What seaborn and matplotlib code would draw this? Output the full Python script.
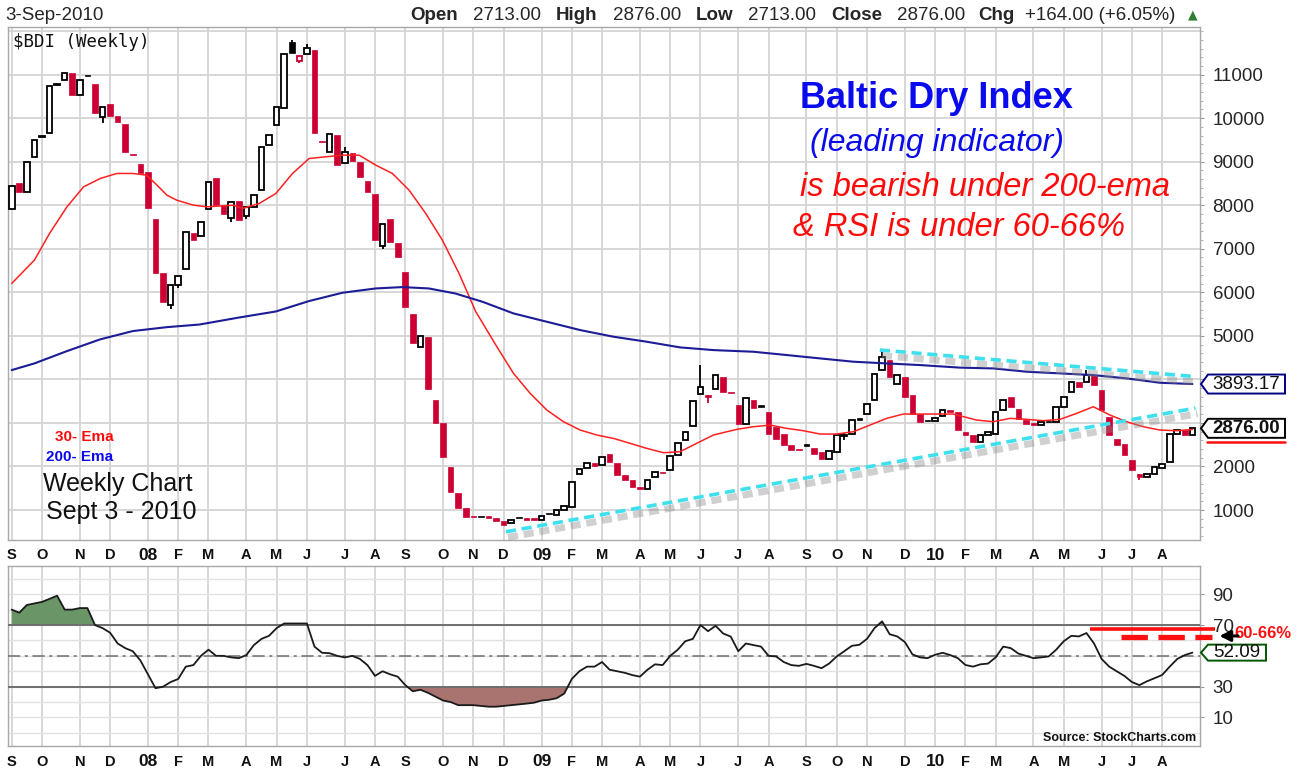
#!/usr/bin/env python3
"""
Baltic Dry Index weekly candles + 30/200 EMA + RSI(14)
"""
import numpy as np
import pandas as pd
import matplotlib
matplotlib.use('Agg')
import matplotlib.pyplot as plt
import matplotlib.patheffects as pe
from matplotlib.patches import Polygon
from matplotlib.lines import Line2D
from matplotlib.ticker import MultipleLocator
import seaborn as sns

sns.set_style('white')
plt.rcParams['font.family'] = ['Liberation Sans', 'DejaVu Sans']
NARROW = ['Liberation Sans Narrow', 'Liberation Sans', 'DejaVu Sans']

# === data ===
first_week = '2007-09-07'

opens = [
    7903, 8515, 8309, 9097, 9570, 9648, 10760, 10872, 11041, 10543,
    10990, 10796, 10030, 10314, 10046, 9855, 9170, 8944, 8768, 7673,
    6449, 5707, 6166, 6526, 7352, 7290, 7903, 8615, 8002, 7696,
    8102, 7750, 7964, 8347, 9380, 9839, 10237, 11752, 11309, 11485,
    11576, 9480, 9227, 9610, 8974, 9204, 8998, 8561, 8255, 7069,
    7673, 7138, 6472, 5500, 4735, 4980, 3525, 2998, 1995, 1383,
    1039, 860, 860, 862, 810, 737, 700, 820, 810, 810,
    774, 920, 885, 1000, 1077, 1827, 1958, 2087, 2034, 2286,
    2073, 1805, 1690, 1520, 1480, 1765, 1860, 1919, 2263, 2608,
    2930, 3664, 3640, 3772, 4048, 3720, 3405, 2985, 3520, 3418,
    3250, 2906, 2753, 2486, 2400, 2523, 2431, 2332, 2178, 2332,
    2700, 2753, 3110, 3212, 3520, 4209, 4438, 3903, 4055, 3635,
    3212, 3070, 3040, 3150, 3290, 3250, 2790, 2716, 2562, 2716,
    2753, 3290, 3596, 3327, 3060, 2998, 2945, 3050, 3021, 3366,
    3710, 3940, 3940, 4108, 3750, 3136, 2638, 2523, 2155, 1834,
    1758, 1834, 1972, 2110, 2746, 2830, 2713]

closes = [
    8439, 8309, 8982, 9510, 9587, 10735, 10780, 11041, 10543, 10888,
    10964, 10122, 10260, 10046, 9916, 9212, 9150, 8730, 7941, 6449,
    5783, 6166, 6372, 7390, 7198, 7604, 8538, 8002, 7796, 8079,
    7658, 7964, 8232, 9342, 9610, 10260, 11485, 11500, 11423, 11622,
    9648, 9456, 9625, 8921, 9227, 9013, 8653, 8309, 7199, 7559,
    7161, 6801, 5653, 4826, 4995, 3770, 2990, 2224, 1420, 1040,
    846, 830, 850, 810, 737, 663, 770, 810, 775, 772,
    862, 908, 1000, 1092, 1650, 1935, 2073, 2010, 2225, 2110,
    1805, 1690, 1520, 1480, 1690, 1880, 1843, 2240, 2530, 2800,
    3504, 3818, 3600, 4100, 3720, 3680, 2985, 3575, 3336, 3366,
    2753, 2638, 2486, 2385, 2370, 2463, 2293, 2178, 2355, 2716,
    2720, 3060, 3070, 3428, 4131, 4514, 4055, 4094, 3596, 3212,
    3021, 3035, 3110, 3290, 3250, 2830, 2716, 2562, 2716, 2790,
    3258, 3520, 3366, 3097, 2982, 2945, 3021, 3030, 3366, 3596,
    3940, 3825, 4108, 3864, 3290, 2716, 2486, 2256, 1912, 1758,
    1834, 1988, 2050, 2746, 2830, 2712, 2876]

# visible wicks only
wick_high = {0: 8470, 37: 11793, 39: 11700, 44: 9330, 91: 4330, 110: 2760,
             115: 4661, 142: 4209}
wick_low = {12: 9880, 21: 5615, 22: 6110, 29: 7620, 31: 7690, 38: 11260,
            49: 6990, 92: 3450, 110: 2600, 149: 1700}

ema30_wk = [0, 3, 5, 7.3, 9.5, 11.7, 13.9, 16, 17.8, 19.2,
            20.5, 21.8, 24, 25.8, 29.3, 30.5, 32.7, 34.9, 37.1, 39.3,
            41.5, 43.7, 45.9, 48.1, 50.3, 52.5, 54.7, 56.9, 59.1, 61.3,
            64.1, 66.3, 68.5, 70.7, 72.9, 75.1, 77.3, 79.5, 81.7, 83.9,
            86.1, 88.3, 90.5, 92.7, 95.8, 98, 100.2, 102.4, 104.6, 106.8,
            109, 111.2, 113.4, 115.6, 117.8, 120, 122.2, 124.4, 127.5, 129.7,
            131.9, 134.1, 136.3, 138.5, 140.7, 142.9, 145.1, 147.3, 149.5, 151.7,
            153.9, 156]
ema30 = [6204, 6740, 7352, 7964, 8423, 8615, 8730, 8730, 8691, 8462,
         8232, 8117, 8002, 7964, 8002, 7926, 8041, 8270, 8730, 9074,
         9112, 9150, 9150, 8921, 8730, 8347, 7811, 7199, 6434, 5560,
         4750, 4138, 3679, 3296, 3028, 2837, 2722, 2645, 2531, 2416,
         2316, 2339, 2531, 2722, 2852, 2913, 2951, 2875, 2821, 2745,
         2745, 2798, 2951, 3105, 3204, 3204, 3204, 3204, 3066, 3028,
         3105, 3082, 3051, 3082, 3219, 3372, 3181, 3028, 2913, 2837,
         2821, 2850]

ema200_wk = [0, 3, 7.3, 11.7, 16, 20.5, 24.8, 30, 34.9, 39.3,
             43.7, 48.1, 51.6, 55.1, 58.6, 62.2, 66.3, 70.7, 75.1, 79.5,
             83.9, 88.3, 92.7, 98, 102.4, 106.8, 111.2, 115.6, 120, 125.3,
             129.7, 134.1, 138.5, 142.9, 147.3, 151.7, 156]
ema200 = [4214, 4367, 4650, 4920, 5110, 5200, 5260, 5420, 5560, 5800,
          5990, 6089, 6120, 6089, 5974, 5783, 5515, 5324, 5133, 4980,
          4865, 4735, 4673, 4635, 4559, 4482, 4406, 4367, 4329, 4270,
          4252, 4176, 4138, 4099, 4023, 3923, 3893.17]

rsi = [80, 78, 83, 84, 85, 87, 89, 80, 80, 81,
       81, 70, 68, 65, 58, 55, 53, 47, 38, 29,
       30, 33, 35, 43, 44, 50, 54, 50, 50, 49,
       48.5, 50.5, 57, 61, 63, 68, 71, 71, 71, 71,
       56, 52, 51.7, 50, 49, 50, 48, 44, 37, 40,
       38, 36.5, 31, 27, 28, 26, 23.5, 21, 20, 18,
       18, 18, 17.5, 17, 17, 17.5, 18, 18.5, 19, 19.6,
       21, 21.5, 22.5, 25.5, 35, 40, 43, 43, 46, 41,
       40, 39, 37.5, 36.5, 41, 44.5, 44, 50, 54, 59.5,
       61, 70, 66, 69.5, 64.5, 62.5, 53, 58, 57, 56,
       50, 49.6, 46, 44, 43.5, 44.8, 43.5, 42, 45, 49.6,
       53, 56.5, 57.2, 61, 68, 72.4, 64, 62.6, 59, 51,
       49, 48.5, 50.7, 52, 50.5, 48.5, 44.1, 43, 44.5, 45,
       49, 56, 55, 51.5, 50, 48.5, 49, 49.6, 54, 59.5,
       63, 62.6, 64.8, 58, 48, 43, 40, 37, 33, 31,
       33.5, 35.5, 37.6, 43, 48, 50.5, 52.09]

# hand-drawn annotations
support_wk = [65.3, 156.4]
support_val = [500, 3340]
resist_wk = [114.7, 156.5]
resist_val = [4675, 4062]
zone_solid_wk = [142.5, 159.0]
zone_solid_val = 67.4
zone_dash_wk = [146.5, 158.6]
zone_dash_val = 62.0

RED = '#cc0033'
GRID = '#d4d4d4'
W, H = 1303, 773

fig = plt.figure(figsize=(W / 100, H / 100), dpi=100)
fig.patch.set_facecolor('white')
ax = fig.add_axes([8 / W, 1 - 540 / H, 1192 / W, 513 / H])
ax2 = fig.add_axes([8 / W, 1 - 746 / H, 1192 / W, 180 / H])

weeks = np.arange(len(closes))
rsi_arr = np.array(rsi)
dates = pd.date_range(first_week, periods=len(closes), freq='7D')
mondays = dates - pd.Timedelta(days=4)
month_pos = [0] + [i for i in range(1, len(mondays)) if mondays[i].month != mondays[i - 1].month]
month_lab = [f'{mondays[i].year % 100:02d}' if mondays[i].month == 1 else mondays[i].strftime('%b')[0]
             for i in month_pos]

for a in (ax, ax2):
    a.set_xlim(-0.49, 157.0)
    a.set_xticks([])
    for s in a.spines.values():
        s.set_color('#a8a8a8')
        s.set_linewidth(1.0)
    for m in month_pos:
        a.axvline(m, color=GRID, lw=1.3, zorder=0)

# month labels above and below the RSI panel
for a, yy in ((ax, -15 / 513), (ax2, -16 / 180)):
    for m, lab in zip(month_pos, month_lab):
        yr = lab.isdigit()
        a.text(m, yy, lab, transform=a.get_xaxis_transform(), ha='center', va='center',
               fontsize=12.5 if yr else 10.5, fontweight='bold', family=NARROW,
               color='#111111', clip_on=False)

# === price panel ===
ax.set_ylim(311, 12094)
for v in range(1000, 12001, 1000):
    ax.axhline(v, color=GRID, lw=1.3, zorder=0)

for i in weeks:
    o, c = opens[i], closes[i]
    prev = closes[i - 1] if i else o
    col = RED if c < prev else 'black'
    hi = wick_high.get(i, max(o, c))
    lo = wick_low.get(i, min(o, c))
    if hi > max(o, c) or lo < min(o, c):
        ax.vlines(i, lo, hi, color=col, lw=1.3, zorder=3)
    filled = c < o
    ax.bar(i, max(abs(c - o), 20), bottom=min(o, c), width=0.74,
           facecolor=col if filled else 'white', edgecolor=col,
           linewidth=0.5 if filled else 1.3, zorder=4)

sns.lineplot(x=ema30_wk, y=ema30, ax=ax, color='#ff2020', linewidth=1.1, zorder=5)
sns.lineplot(x=ema200_wk, y=ema200, ax=ax, color='#1c1c96', linewidth=1.5, zorder=5)

shadow = [pe.SimpleLineShadow(offset=(1.5, -4), shadow_color='#8a8a8a', alpha=0.4, linewidth=5),
          pe.Normal()]
for xs, ys in ((support_wk, support_val), (resist_wk, resist_val)):
    ax.plot(xs, ys, color='#3ee0ee', lw=2.6, dashes=(2.8, 1.6), path_effects=shadow,
            zorder=6, clip_on=False)

ax.yaxis.tick_right()
ax.set_yticks(range(1000, 12000, 1000))
ax.set_yticklabels(['' if v in (3000, 4000) else str(v) for v in range(1000, 12000, 1000)])
ax.yaxis.set_minor_locator(MultipleLocator(200))
ax.tick_params(axis='y', which='major', length=3, pad=6, labelsize=13.5, color='#999999')
ax.tick_params(axis='y', which='minor', right=True, length=2, color='#aaaaaa')
ax.set_xlabel('')
ax.set_ylabel('')

# === RSI panel ===
ax2.set_ylim(-8.5, 108.3)
for v in range(0, 101, 10):
    ax2.axhline(v, color='#e2e2e2', lw=1.0, zorder=0)
ax2.fill_between(weeks, rsi_arr, 70, where=rsi_arr >= 70, interpolate=True, color='#6a9566', zorder=2, lw=0)
ax2.fill_between(weeks, rsi_arr, 30, where=rsi_arr <= 30, interpolate=True, color='#a9736f', zorder=2, lw=0)
ax2.axhline(70, color='#6e6e6e', lw=1.4, zorder=3)
ax2.axhline(30, color='#6e6e6e', lw=1.4, zorder=3)
ax2.axhline(50, color='#6e6e6e', lw=1.1, dashes=(8, 3, 2, 3), zorder=3)
sns.lineplot(x=weeks, y=rsi_arr, ax=ax2, color='#1a1a1a', linewidth=1.3, zorder=5)

ax2.plot(zone_solid_wk, [zone_solid_val] * 2, color='#ff1010', lw=2.6, solid_capstyle='butt',
         zorder=6, clip_on=False)
ax2.plot(zone_dash_wk, [zone_dash_val] * 2, color='#ff1010', lw=3.8, dashes=(5, 2),
         zorder=6, clip_on=False)
ax2.annotate('', xy=(159.2, 62.9), xytext=(162.4, 62.9),
             arrowprops=dict(arrowstyle='-|>', color='black', lw=2.2, mutation_scale=16),
             annotation_clip=False, zorder=7)
ax2.text(161.6, 64.2, '60-66%', color='#ff1010', fontsize=12, fontweight='bold',
         va='center', ha='left', clip_on=False)

ax2.yaxis.tick_right()
ax2.set_yticks([10, 30, 70, 90])
ax2.tick_params(axis='y', length=3, pad=6, labelsize=13.5, color='#999999')
ax2.set_xlabel('')
ax2.set_ylabel('')


# === value tags on the right ===
def tag(axis, yval, text, edge, weight='normal', xr=1285, h=19, under=None):
    ypix = axis.transData.transform((0, yval))[1]
    xl = 1201
    pts = [(xl, ypix), (xl + 7, ypix + h / 2), (xr, ypix + h / 2), (xr, ypix - h / 2), (xl + 7, ypix - h / 2)]
    fig.add_artist(Polygon([(px / W, py / H) for px, py in pts], closed=True, transform=fig.transFigure,
                           facecolor='white', edgecolor=edge, lw=1.4, zorder=10))
    fig.text((xl + 7 + xr) / 2 / W, ypix / H, text, ha='center', va='center', fontsize=13.5,
             fontweight=weight, color='#111111', zorder=11)
    if under:
        fig.add_artist(Line2D([(xl + 6) / W, xr / W], [(ypix - h / 2 - 4) / H] * 2,
                              transform=fig.transFigure, color=under, lw=1.8, zorder=10))


tag(ax, ema200[-1], f'{ema200[-1]:.2f}', '#000080')
tag(ax, closes[-1], f'{closes[-1]:.2f}', 'black', weight='bold', under='#ff1010')
tag(ax2, rsi[-1], f'{rsi[-1]:.2f}', '#005500', xr=1266, h=16)

# === header ===
fy = 1 - 15 / H
last = dates[-1]
fig.text(5 / W, fy, f'{last.day}-{last:%b}-{last.year}', fontsize=13.5, va='center', ha='left')
chg = closes[-1] - closes[-2]
hi_last = max(opens[-1], closes[-1])
lo_last = min(opens[-1], closes[-1])
pieces = [('Open', True, 410), (f'{opens[-1]:.2f}', False, 473),
          ('High', True, 556), (f'{hi_last:.2f}', False, 613),
          ('Low', True, 696), (f'{lo_last:.2f}', False, 748),
          ('Close', True, 831), (f'{closes[-1]:.2f}', False, 897),
          ('Chg', True, 978), (f'+{chg:.2f} (+{chg / closes[-2] * 100:.2f}%)', False, 1025)]
for txt, bold, px in pieces:
    fig.text(px / W, fy, txt, fontsize=13.5, fontweight='bold' if bold else 'normal',
             va='center', ha='left')
fig.text(1193 / W, fy, '\u25b2', fontsize=9, color='#2e7d32', va='center', ha='center', family='DejaVu Sans')

# === chart annotations ===
fig.text(13 / W, 1 - 42 / H, '$BDI (Weekly)', fontsize=12.5, family='DejaVu Sans Mono',
         va='center', ha='left', color='#111111')
fig.text(936 / W, 1 - 99 / H, 'Baltic Dry Index', fontsize=26, fontweight='bold', color='#0a0aee',
         ha='center', va='center')
fig.text(937 / W, 1 - 143 / H, '(leading indicator)', fontsize=23, style='italic', color='#0a0aee',
         ha='center', va='center')
fig.text(985 / W, 1 - 187 / H, 'is bearish under 200-ema', fontsize=23.5, style='italic', color='#ff0a0a',
         ha='center', va='center')
fig.text(959 / W, 1 - 227 / H, '& RSI is under 60-66%', fontsize=23.5, style='italic', color='#ff0a0a',
         ha='center', va='center')
fig.text(84 / W, 1 - 437 / H, '30- Ema', fontsize=11, fontweight='bold', color='#ff0a0a',
         ha='center', va='center')
fig.text(80 / W, 1 - 457 / H, '200- Ema', fontsize=11, fontweight='bold', color='#0a0aee',
         ha='center', va='center')
fig.text(118 / W, 1 - 484 / H, 'Weekly Chart', fontsize=18, color='#111111', ha='center', va='center')
fig.text(121 / W, 1 - 512 / H, 'Sept 3 - 2010', fontsize=18, color='#111111', ha='center', va='center')
fig.text(1196 / W, 1 - 738 / H, 'Source: StockCharts.com', fontsize=9, fontweight='bold', family=NARROW,
         color='#111111', ha='right', va='center')

fig.savefig('out.png', dpi=100, facecolor='white')
